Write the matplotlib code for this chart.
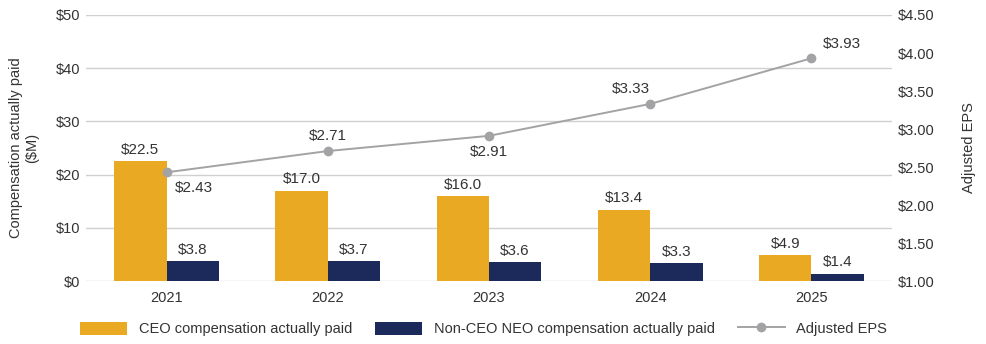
import matplotlib.pyplot as plt
import numpy as np

plt.rcParams['font.family'] = ['Liberation Sans', 'DejaVu Sans']

years = ['2021', '2022', '2023', '2024', '2025']
ceo_cap = [22.5, 17.0, 16.0, 13.4, 4.9]
neo_cap = [3.8, 3.7, 3.6, 3.3, 1.4]
adj_eps = [2.43, 2.71, 2.91, 3.33, 3.93]

# label placement for the EPS points: below?, horizontal shift
eps_label_below = [True, False, True, False, False]
eps_label_dx = [0.17, 0.0, 0.0, -0.12, 0.19]

gold = '#E9A923'
navy = '#1C2A5B'
grey_line = '#A3A3A6'
text_c = '#333333'
fs = 10.5
fs_val = 11

fig = plt.figure(figsize=(9.87, 3.44), dpi=100)
ax = fig.add_axes([0.0871, 0.1831, 0.8166, 0.7733])
ax2 = ax.twinx()

x = np.arange(len(years))
w = 0.325
b1 = ax.bar(x - w / 2, ceo_cap, w, color=gold, label='CEO compensation actually paid', zorder=3)
b2 = ax.bar(x + w / 2, neo_cap, w, color=navy, label='Non-CEO NEO compensation actually paid', zorder=3)

for xi, v in zip(x, ceo_cap):
    ax.text(xi - w / 2, v + 0.8, f'${v:.1f}', ha='center', va='bottom', fontsize=fs_val, color=text_c)
for xi, v in zip(x, neo_cap):
    ax.text(xi + w / 2, v + 0.8, f'${v:.1f}', ha='center', va='bottom', fontsize=fs_val, color=text_c)

ax.set_xlim(-0.5, len(years) - 0.5)
ax.set_ylim(0, 50)
ax.set_yticks(range(0, 51, 10))
ax.set_yticklabels([f'${t}' for t in range(0, 51, 10)])
ax.set_xticks(x)
ax.set_xticklabels(years)
ax.grid(axis='y', color='#D0D0D0', linewidth=1.0, zorder=0)
ax.set_axisbelow(True)
ax.set_ylabel('Compensation actually paid\n($M)', fontsize=fs, color=text_c, labelpad=12)

ln, = ax2.plot(x, adj_eps, color=grey_line, linewidth=1.4, marker='o', markersize=6,
               label='Adjusted EPS', zorder=4)
for xi, v, below, dx in zip(x, adj_eps, eps_label_below, eps_label_dx):
    if below:
        ax2.text(xi + dx, v - 0.12, f'${v:.2f}', ha='center', va='top', fontsize=fs_val, color=text_c)
    else:
        ax2.text(xi + dx, v + 0.1, f'${v:.2f}', ha='center', va='bottom', fontsize=fs_val, color=text_c)

ax2.set_ylim(1.0, 4.5)
eps_ticks = np.arange(1.0, 4.51, 0.5)
ax2.set_yticks(eps_ticks)
ax2.set_yticklabels([f'${t:.2f}' for t in eps_ticks])
ax2.set_ylabel('Adjusted EPS', fontsize=fs, color=text_c, labelpad=20)

for a in (ax, ax2):
    for s in a.spines.values():
        s.set_visible(False)
    a.tick_params(length=0, labelsize=fs, colors=text_c)
ax.tick_params(axis='x', pad=7)
ax.tick_params(axis='y', pad=4)
ax2.tick_params(axis='y', pad=4)

fig.legend(handles=[b1, b2, ln], loc='lower center', bbox_to_anchor=(0.49, -0.015), ncol=3,
           frameon=False, fontsize=fs, handlelength=3.2, handleheight=1.0,
           columnspacing=1.6, labelcolor=text_c)

fig.savefig('out.png', dpi=100)
